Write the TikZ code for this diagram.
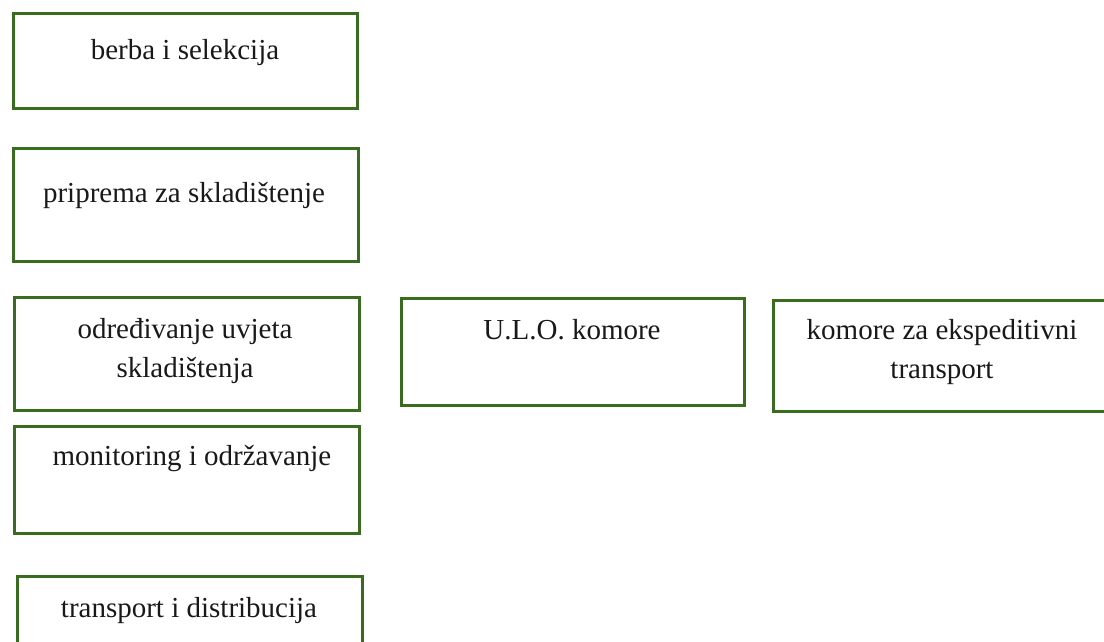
\documentclass[tikz,border=0pt]{standalone}
\usepackage{fontspec}
\setmainfont{Liberation Serif}
\definecolor{boxgreen}{RGB}{58,108,32}
\definecolor{txt}{RGB}{25,25,25}
\tikzset{
  stepbox/.style={draw=boxgreen, line width=3pt, rectangle, inner sep=0pt, fill=white},
  lbl/.style={inner sep=0pt, anchor=base, align=center, text=txt, font=\fontsize{29}{39}\selectfont}
}
\begin{document}
\begin{tikzpicture}[x=1pt,y=-1pt]
\useasboundingbox (0,0) rectangle (1104,641);
\fill[white] (0,0) rectangle (1104,641);
\clip (0,0) rectangle (1104,641);
% boxes
\node[stepbox, minimum width=344, minimum height=95]  (b1) at (185,60.5) {};
\node[stepbox, minimum width=345, minimum height=113] (b2) at (185.5,204.5) {};
\node[stepbox, minimum width=345, minimum height=113] (b3) at (186.5,353.5) {};
\node[stepbox, minimum width=345, minimum height=107] (b4) at (186.5,479.5) {};
\node[stepbox, minimum width=345, minimum height=104] (b5) at (189.5,628) {};
\node[stepbox, minimum width=343, minimum height=107] (b6) at (572.5,351.5) {};
\node[stepbox, minimum width=339, minimum height=111] (b7) at (942.5,355.5) {};
% labels
\node[lbl] (t1) at (185,59) {berba i selekcija};
\node[lbl] (t2) at (184,202) {priprema za skladištenje};
\node[lbl] (t3) at (185,377) {određivanje uvjeta\\skladištenja};
\node[lbl] (t4) at (192,465) {monitoring i održavanje};
\node[lbl] (t5) at (189,617) {transport i distribucija};
\node[lbl] (t6) at (572,339) {U.L.O. komore};
\node[lbl] (t7) at (942,378) {komore za ekspeditivni\\transport};
\end{tikzpicture}
\end{document}
